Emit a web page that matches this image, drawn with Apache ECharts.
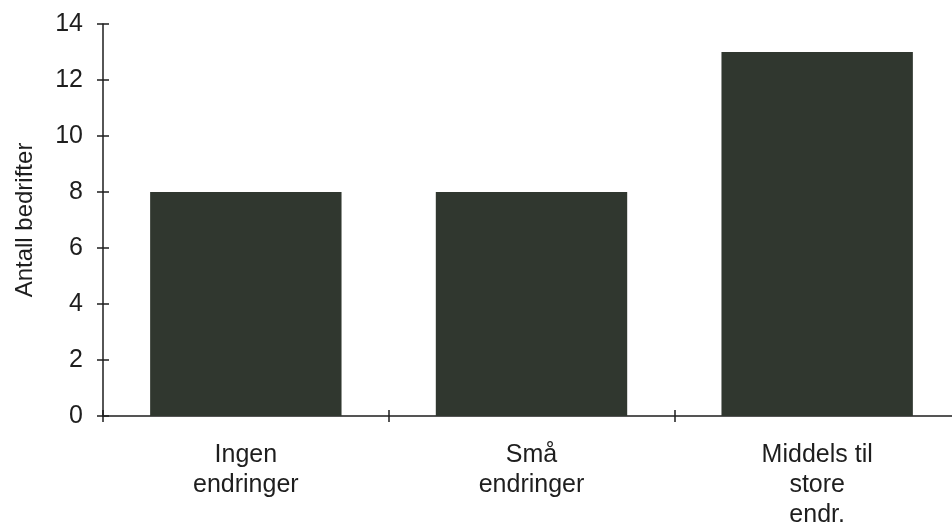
<!DOCTYPE html>
<html>
<head>
<meta charset="utf-8">
<script src="https://cdn.jsdelivr.net/npm/echarts@6/dist/echarts.min.js"></script>
<style>
  html, body { margin: 0; padding: 0; background: #fff; overflow: hidden; }
  /* the plot runs slightly past the right edge of the window */
  #chart { width: 962px; height: 530px; }
</style>
</head>
<body>
<div id="chart"></div>
<script>
// Number of companies by degree of change
const categories = ['Ingen\nendringer', 'Små\nendringer', 'Middels til\nstore\nendr.'];
const companies = [8, 8, 13];
const yTicks = [0, 2, 4, 6, 8, 10, 12, 14];

const font = '"Liberation Sans", Arial, Helvetica, sans-serif';
const ink = '#1e1e1e';

const chart = echarts.init(document.getElementById('chart'), null, { renderer: 'canvas' });

const yMin = yTicks[0];
const yMax = yTicks[yTicks.length - 1];
const yStep = yTicks[1] - yTicks[0];

chart.setOption({
  animation: false,
  backgroundColor: '#ffffff',
  grid: { left: 103, right: 2, top: 24, bottom: 107, containLabel: false },
  xAxis: [
    {
      type: 'category',
      data: categories,
      axisLine: { show: true, lineStyle: { color: ink, width: 1.5 } },
      axisTick: { show: true, length: 6, lineStyle: { color: ink, width: 1.5 } },
      axisLabel: {
        color: ink, fontFamily: font, fontSize: 25, lineHeight: 30,
        margin: 24, interval: 0, align: 'center'
      },
      splitLine: { show: false }
    },
    {
      type: 'category',
      data: categories,
      position: 'bottom',
      axisLine: { show: false },
      axisTick: { show: true, inside: true, length: 6, lineStyle: { color: ink, width: 1.5 } },
      axisLabel: { show: false },
      splitLine: { show: false }
    }
  ],
  yAxis: [
    {
      type: 'value',
      min: yMin, max: yMax, interval: yStep,
      name: 'Antall bedrifter',
      nameLocation: 'middle',
      nameGap: 66,
      nameRotate: 90,
      nameTextStyle: {
        color: ink, fontFamily: font, fontSize: 24
      },
      axisLine: { show: true, lineStyle: { color: ink, width: 1.5 } },
      axisTick: { show: true, length: 6, lineStyle: { color: ink, width: 1.5 } },
      axisLabel: { color: ink, fontFamily: font, fontSize: 25, margin: 20 },
      splitLine: { show: false }
    },
    {
      type: 'value',
      min: yMin, max: yMax, interval: yStep,
      position: 'left',
      axisLine: { show: false },
      axisTick: { show: true, inside: true, length: 6, lineStyle: { color: ink, width: 1.5 } },
      axisLabel: { show: false },
      splitLine: { show: false }
    }
  ],
  series: [
    {
      type: 'bar',
      data: companies,
      barWidth: '67%',
      itemStyle: { color: '#30372f' },
      silent: true
    }
  ]
});
</script>
</body>
</html>
